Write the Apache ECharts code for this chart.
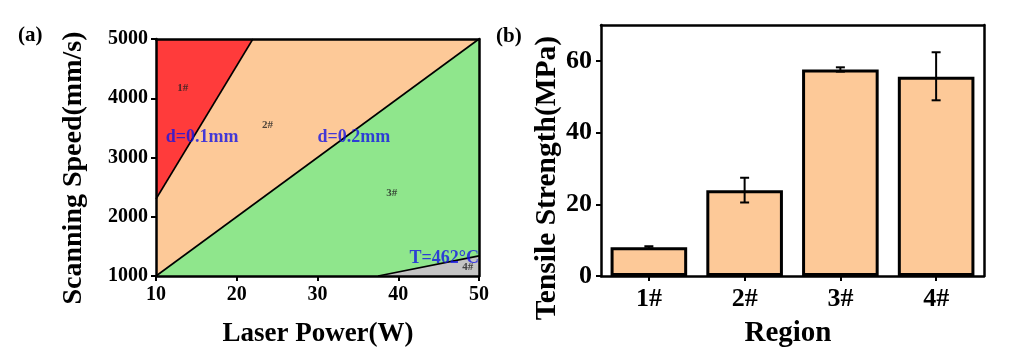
<!DOCTYPE html>
<html>
<head>
<meta charset="utf-8">
<script src="https://cdn.jsdelivr.net/npm/echarts@6/dist/echarts.min.js"></script>
<style>html,body{margin:0;padding:0;background:#fff;}#c{width:1018px;height:358px;}</style>
</head>
<body>
<div id="c"></div>
<script>
// ---- Panel (a) data ----
const powerTicks = [10, 20, 30, 40, 50];
const speedTicks = [1000, 2000, 3000, 4000, 5000];
const line1 = [[10, 2300], [22, 5000]];          // d=0.1mm boundary
const line2 = [[10, 1000], [50, 5000]];          // d=0.2mm boundary
const line3 = [[37.5, 1000], [50, 1340]];        // T=462°C boundary
const region1 = [[10, 2300], [22, 5000], [10, 5000]];
const region2 = [[10, 1000], [10, 2300], [22, 5000], [50, 5000]];
const region3 = [[10, 1000], [50, 5000], [50, 1340], [37.5, 1000]];
const region4 = [[37.5, 1000], [50, 1340], [50, 1000]];
const regionColors = ['#FF3B3B', '#FDC998', '#8FE68C', '#C4C4C4'];
const regionLabels = [['1#', 13.3, 4170], ['2#', 23.8, 3547], ['3#', 39.2, 2397], ['4#', 48.6, 1147]];
const boundaryLabels = [['d=0.1mm', 15.7, 3344], ['d=0.2mm', 34.5, 3344], ['T=462°C', 45.7, 1304]];

// ---- Panel (b) data ----
const regions = ['1#', '2#', '3#', '4#'];
const strength = [8.0, 23.9, 57.6, 55.6];
const errLow = [7.7, 20.5, 57.0, 49.0];
const errHigh = [8.3, 27.4, 58.2, 62.4];
const strengthTicks = [0, 20, 40, 60];

const polys = [region1, region2, region3, region4];
const font = 'Liberation Serif';

const chart = echarts.init(document.getElementById('c'), null, {renderer: 'canvas'});

const axisCommon = {
  axisLine: {show: true, onZero: false, lineStyle: {color: '#000', width: 2.5}},
  axisTick: {show: true, inside: false, length: 5, lineStyle: {color: '#000', width: 2}},
  splitLine: {show: false},
  z: 10
};
const frameAxis = {
  axisLine: {show: true, onZero: false, lineStyle: {color: '#000', width: 2.5}},
  axisTick: {show: false}, axisLabel: {show: false}, splitLine: {show: false}, z: 10
};
const lbl = (size, margin) => ({fontFamily: font, fontWeight: 'bold', fontSize: size, color: '#000', margin: margin, formatter: v => String(v)});
const title = (text, x, y, size, rot) => ({
  type: 'text', x: x, y: y, rotation: rot ? Math.PI / 2 : 0,
  style: {text: text, fontFamily: font, fontWeight: 'bold', fontSize: size, fill: '#000', align: 'center', verticalAlign: 'middle'}
});

chart.setOption({
  animation: false,
  backgroundColor: '#fff',
  grid: [
    {left: 156, right: 539, top: 39, bottom: 82},
    {left: 601, right: 34, top: 25, bottom: 82}
  ],
  xAxis: [
    Object.assign({}, axisCommon, {
      gridIndex: 0, type: 'value', min: 10, max: 50, interval: 10,
      axisLabel: lbl(20, 9)
    }),
    Object.assign({}, frameAxis, {gridIndex: 0, type: 'value', min: 10, max: 50, position: 'top'}),
    Object.assign({}, axisCommon, {
      gridIndex: 1, type: 'category', data: regions,
      axisTick: {show: true, alignWithLabel: true, length: 5, lineStyle: {color: '#000', width: 2}},
      axisLabel: {fontFamily: font, fontWeight: 'bold', fontSize: 26, color: '#000', margin: 10}
    }),
    Object.assign({}, frameAxis, {gridIndex: 1, type: 'category', data: regions, position: 'top'})
  ],
  yAxis: [
    Object.assign({}, axisCommon, {
      gridIndex: 0, type: 'value', min: 1000, max: 5000, interval: 1000,
      axisLabel: lbl(20, 8)
    }),
    Object.assign({}, frameAxis, {gridIndex: 0, type: 'value', min: 1000, max: 5000, position: 'right'}),
    Object.assign({}, axisCommon, {
      gridIndex: 1, type: 'value', min: 0, max: 70, interval: 20,
      axisLabel: Object.assign(lbl(26, 9), {customValues: strengthTicks}),
      axisTick: {show: true, length: 5, lineStyle: {color: '#000', width: 2}, customValues: strengthTicks}
    }),
    Object.assign({}, frameAxis, {gridIndex: 1, type: 'value', min: 0, max: 70, position: 'right'})
  ],
  graphic: [
    {type: 'text', left: 18, top: 25, style: {text: '(a)', fontFamily: font, fontWeight: 'bold', fontSize: 21, fill: '#000'}},
    {type: 'text', left: 496, top: 26, style: {text: '(b)', fontFamily: font, fontWeight: 'bold', fontSize: 21, fill: '#000'}},
    title('Scanning Speed(mm/s)', 74, 168, 28, true),
    title('Laser Power(W)', 318, 334, 27, false),
    title('Tensile Strength(MPa)', 547, 178, 29.5, true),
    title('Region', 788, 334, 29, false)
  ],
  series: [
    {
      type: 'custom', xAxisIndex: 0, yAxisIndex: 0, clip: true,
      data: polys.map(p => p[0]),
      renderItem: function (params, api) {
        const pts = polys[params.dataIndex].map(v => api.coord(v));
        return {type: 'polygon', shape: {points: pts}, style: {fill: regionColors[params.dataIndex], stroke: null}};
      },
      z: 1
    },
    ...[line1, line2, line3].map(l => ({
      type: 'line', xAxisIndex: 0, yAxisIndex: 0, data: l, symbol: 'none',
      lineStyle: {color: '#000', width: 1.6}, z: 3
    })),
    {
      type: 'scatter', xAxisIndex: 0, yAxisIndex: 0, symbolSize: 0, z: 4,
      data: regionLabels.map(r => ({value: [r[1], r[2]], label: {formatter: r[0]}})),
      label: {show: true, position: 'inside', fontFamily: font, fontWeight: 'bold', fontSize: 11, color: '#222'}
    },
    {
      type: 'scatter', xAxisIndex: 0, yAxisIndex: 0, symbolSize: 0, z: 5,
      data: boundaryLabels.map(r => ({value: [r[1], r[2]], label: {formatter: r[0]}})),
      label: {show: true, position: 'inside', fontFamily: font, fontWeight: 'bold', fontSize: 18, color: '#1414E6'}
    },
    {
      type: 'bar', xAxisIndex: 2, yAxisIndex: 2, data: strength, barWidth: '80%',
      itemStyle: {color: '#FDC998', borderColor: '#000', borderWidth: 3}, z: 2
    },
    {
      type: 'custom', xAxisIndex: 2, yAxisIndex: 2, z: 6,
      data: regions.map((r, i) => [i, errLow[i], errHigh[i]]),
      renderItem: function (params, api) {
        const lo = api.coord([api.value(0), api.value(1)]);
        const hi = api.coord([api.value(0), api.value(2)]);
        const w = 4.5;
        const st = {stroke: '#000', lineWidth: 2};
        return {type: 'group', children: [
          {type: 'line', shape: {x1: lo[0], y1: lo[1], x2: hi[0], y2: hi[1]}, style: st},
          {type: 'line', shape: {x1: lo[0] - w, y1: lo[1], x2: lo[0] + w, y2: lo[1]}, style: st},
          {type: 'line', shape: {x1: hi[0] - w, y1: hi[1], x2: hi[0] + w, y2: hi[1]}, style: st}
        ]};
      }
    }
  ]
});
</script>
</body>
</html>
